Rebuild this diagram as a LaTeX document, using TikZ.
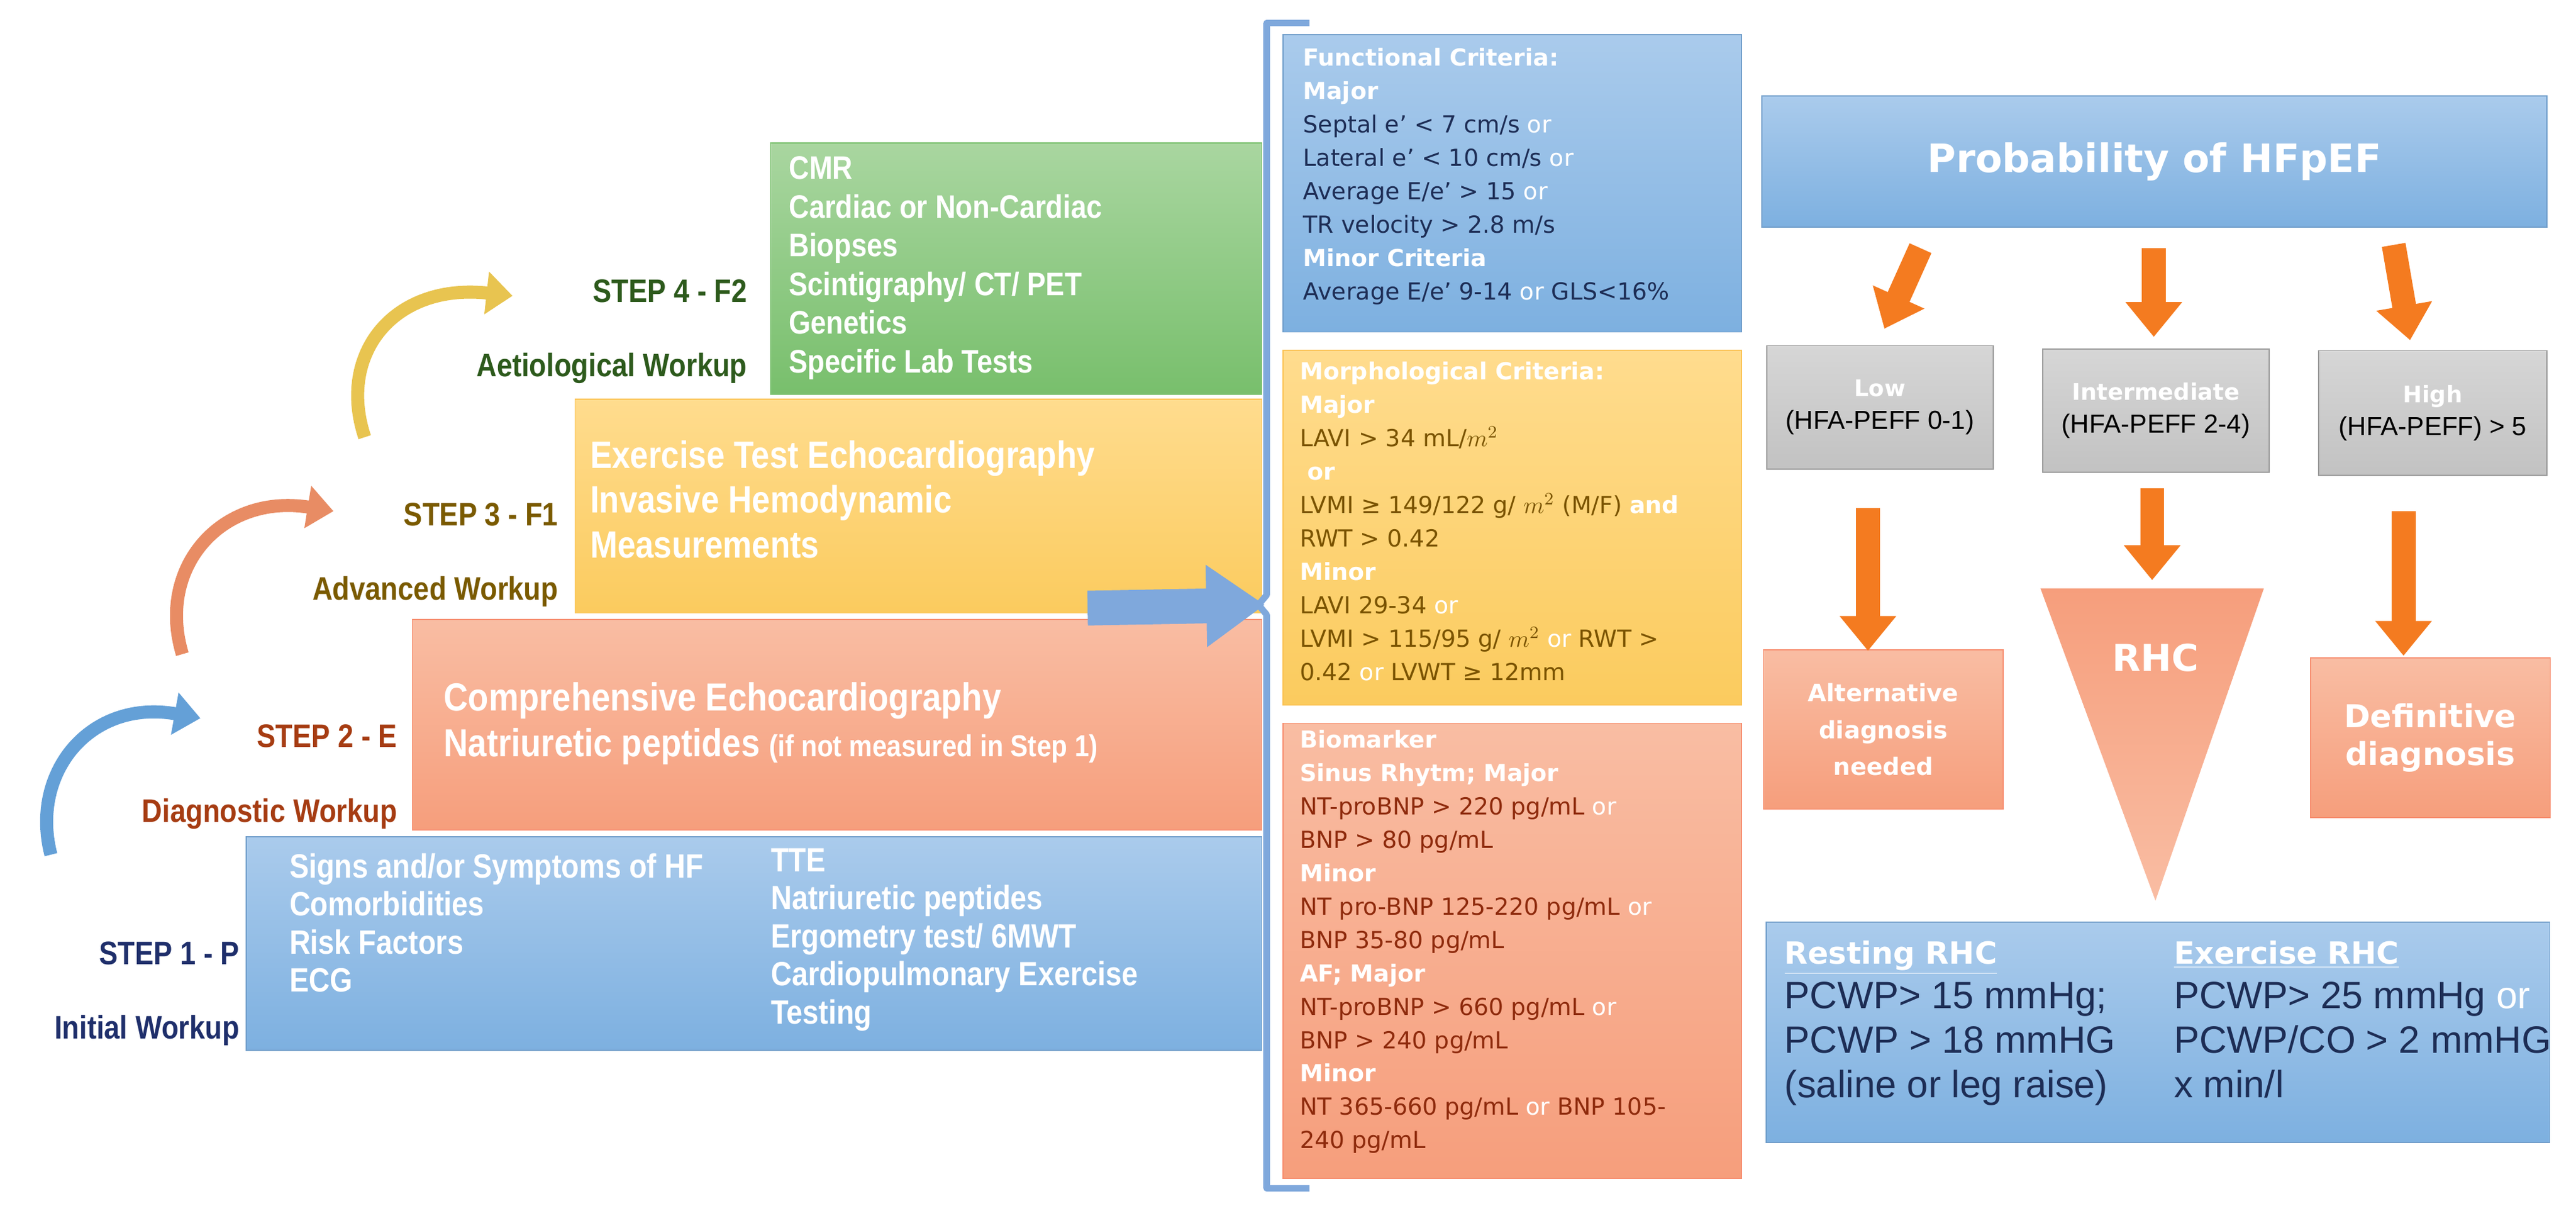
\documentclass[tikz,border=0pt]{standalone}
\usepackage{fontspec}
\setmainfont{Liberation Sans}
\newfontfamily\dv{DejaVu Sans}
\newfontfamily\cond[FakeStretch=0.86]{Liberation Sans}
\usetikzlibrary{arrows.meta}
\definecolor{bluT}{HTML}{AACBEC}\definecolor{bluB}{HTML}{7DB0E0}
\definecolor{grnT}{HTML}{A9D6A0}\definecolor{grnB}{HTML}{78BF6C}
\definecolor{yelT}{HTML}{FFDC8E}\definecolor{yelB}{HTML}{FBCB5E}
\definecolor{salT}{HTML}{F9BDA3}\definecolor{salB}{HTML}{F69E7C}
\definecolor{gryT}{HTML}{D6D6D6}\definecolor{gryB}{HTML}{C2C2C2}
\definecolor{orA}{HTML}{F47B20}
\definecolor{navy}{HTML}{1D2D55}\definecolor{brn}{HTML}{7A5300}\definecolor{dred}{HTML}{8E2A0C}
\definecolor{s4}{HTML}{2D5A1C}\definecolor{s3}{HTML}{7A5A00}\definecolor{s2}{HTML}{A63C12}\definecolor{s1}{HTML}{1F2F6B}
\definecolor{brk}{HTML}{7FA8DC}
\definecolor{cY}{HTML}{E8C450}\definecolor{cO}{HTML}{E88C64}\definecolor{cB}{HTML}{64A0D7}
\newcommand{\Wor}{{\color{white}or}}
\tikzset{
 bluebox/.style={top color=bluT,bottom color=bluB,draw=bluB!90!black,line width=0.5pt},
 grnbox/.style={top color=grnT,bottom color=grnB,draw=grnB,line width=0.5pt},
 yelbox/.style={top color=yelT,bottom color=yelB,draw=yelB!90!orange,line width=0.5pt},
 salbox/.style={top color=salT,bottom color=salB,draw=salB!90!red,line width=0.5pt},
 grybox/.style={top color=gryT,bottom color=gryB,draw=gray!80,line width=0.5pt},
 wt/.style={text=white,inner sep=0pt,anchor=north west,align=left},
 lbl/.style={inner sep=0pt,anchor=east,font=\cond\bfseries\fontsize{15}{18}\selectfont},
 crit/.style={inner sep=0pt,anchor=north west,align=left,font=\dv\fontsize{10.8}{15.35}\selectfont},
 oarr/.style={draw=orA,line width=11pt,-{Triangle[length=16pt,width=25pt]}},
 carr/.style={draw=#1,line width=6pt,-{Triangle[length=12pt,width=19pt]}},
}
\begin{document}
\begin{tikzpicture}[x=0.02656cm,y=-0.02656cm]
\useasboundingbox (0,0) rectangle (1568,741);
% step boxes
\path[bluebox] (150,509) rectangle (768,639);
\path[salbox] (251,377) rectangle (768,505);
\path[yelbox] (350,243) rectangle (768,373);
\path[grnbox] (469,87) rectangle (768,240);
% step texts
\node[wt,font=\cond\bfseries\fontsize{15}{17.8}\selectfont] (g4) at (480,95) {CMR\\Cardiac or Non-Cardiac\\Biopses\\Scintigraphy/ CT/ PET\\Genetics\\Specific Lab Tests};
\node[wt,font=\cond\bfseries\fontsize{17.5}{20.5}\selectfont] (g3) at (359,268) {Exercise Test Echocardiography\\Invasive Hemodynamic\\Measurements};
\node[wt,font=\cond\bfseries\fontsize{18}{21}\selectfont] (g2) at (270,415) {Comprehensive Echocardiography\\Natriuretic peptides {\fontsize{14}{16}\selectfont(if not measured in Step 1)}};
\node[wt,font=\cond\bfseries\fontsize{15.5}{17.5}\selectfont] (g1a) at (176,519) {Signs and/or Symptoms of HF\\Comorbidities\\Risk Factors\\ECG};
\node[wt,font=\cond\bfseries\fontsize{15.5}{17.5}\selectfont] (g1b) at (469,516) {TTE\\Natriuretic peptides\\Ergometry test/ 6MWT\\Cardiopulmonary Exercise\\Testing};
% step labels
\node[lbl,text=s4] (l4a) at (455,177) {STEP 4 - F2};
\node[lbl,text=s4] (l4b) at (455,224) {Aetiological Workup};
\node[lbl,text=s3] (l3a) at (340,313) {STEP 3 - F1};
\node[lbl,text=s3] (l3b) at (340,360) {Advanced Workup};
\node[lbl,text=s2] (l2a) at (242,448) {STEP 2 - E};
\node[lbl,text=s2] (l2b) at (242,495) {Diagnostic Workup};
\node[lbl,text=s1] (l1a) at (146,580) {STEP 1 - P};
\node[lbl,text=s1] (l1b) at (146,627) {Initial Workup};
% curved arrows
\coordinate (ya) at (222,266); \coordinate (yb) at (312,180);
\coordinate (oa) at (111,398); \coordinate (ob) at (203,311);
\coordinate (ba) at (31,520);  \coordinate (bb) at (122,437);
\draw[carr=cY] (ya) .. controls (205,215) and (240,172) .. (yb);
\draw[carr=cO] (oa) .. controls (95,345) and (135,300) .. (ob);
\draw[carr=cB] (ba) .. controls (18,470) and (55,425) .. (bb);
% big blue arrow
\coordinate (bua) at (662,370); \coordinate (bub) at (770,368);
\draw[draw=brk,line width=16pt,-{Triangle[length=27pt,width=36pt]}] (bua) -- (bub);
% bracket
\draw[brk,line width=3pt,line join=round] (797,14) -- (771,14) -- (771,362) -- (766,368) -- (771,374) -- (771,723) -- (797,723);
% criteria boxes
\path[bluebox] (781,21) rectangle (1060,202);
\path[yelbox] (781,213) rectangle (1060,429);
\path[salbox] (781,440) rectangle (1060,717);
\node[crit,text=navy] (fc) at (793,29) {{\color{white}\bfseries Functional Criteria:}\\{\color{white}\bfseries Major}\\Septal e’ < 7 cm/s \Wor\\Lateral e’ < 10 cm/s \Wor\\Average E/e’ > 15 \Wor\\TR velocity > 2.8 m/s\\{\color{white}\bfseries Minor Criteria}\\Average E/e’ 9-14 \Wor{} GLS<16\%};
\node[crit,text=brn] (mc) at (791,220) {{\color{white}\bfseries Morphological Criteria:}\\{\color{white}\bfseries Major}\\LAVI > 34 mL/$m^2$\\ \ {\color{white}\bfseries or}\\LVMI ≥ 149/122 g/ $m^2$ (M/F) {\color{white}\bfseries and}\\RWT > 0.42\\{\color{white}\bfseries Minor}\\LAVI 29-34 \Wor\\LVMI > 115/95 g/ $m^2$ \Wor{} RWT >\\0.42 \Wor{} LVWT ≥ 12mm};
\node[crit,text=dred] (bc) at (791,444) {{\color{white}\bfseries Biomarker}\\{\color{white}\bfseries Sinus Rhytm; Major}\\NT-proBNP > 220 pg/mL \Wor\\BNP > 80 pg/mL\\{\color{white}\bfseries Minor}\\NT pro-BNP 125-220 pg/mL \Wor\\BNP 35-80 pg/mL\\{\color{white}\bfseries AF; Major}\\NT-proBNP > 660 pg/mL \Wor\\BNP > 240 pg/mL\\{\color{white}\bfseries Minor}\\NT 365-660 pg/mL \Wor{} BNP 105-\\240 pg/mL};
% right part
\node[bluebox,minimum width=478*0.02656cm,minimum height=80*0.02656cm,inner sep=0pt,anchor=north west,text=white,font=\dv\bfseries\fontsize{18}{20}\selectfont] (prob) at (1072,58) {Probability of HFpEF};
\node[grybox,minimum width=138*0.02656cm,minimum height=75*0.02656cm,inner sep=0pt,anchor=north west,align=center,font=\fontsize{12}{15}\selectfont] (low) at (1075,210) {{\dv\bfseries\color{white}\fontsize{10.5}{13}\selectfont Low}\\(HFA-PEFF 0-1)};
\node[grybox,minimum width=138*0.02656cm,minimum height=75*0.02656cm,inner sep=0pt,anchor=north west,align=center,font=\fontsize{12}{15}\selectfont] (mid) at (1243,212) {{\dv\bfseries\color{white}\fontsize{10.5}{13}\selectfont Intermediate}\\(HFA-PEFF 2-4)};
\node[grybox,minimum width=139*0.02656cm,minimum height=76*0.02656cm,inner sep=0pt,anchor=north west,align=center,font=\fontsize{12}{15}\selectfont] (high) at (1411,213) {{\dv\bfseries\color{white}\fontsize{10.5}{13}\selectfont High}\\(HFA-PEFF) > 5};
\node[salbox,minimum width=146*0.02656cm,minimum height=97*0.02656cm,inner sep=0pt,anchor=north west,align=center,text=white,font=\dv\bfseries\fontsize{11}{17}\selectfont] (alt) at (1073,395) {Alternative\\diagnosis\\needed};
\node[salbox,minimum width=146*0.02656cm,minimum height=97*0.02656cm,inner sep=0pt,anchor=north west,align=center,text=white,font=\dv\bfseries\fontsize{14.5}{17.5}\selectfont] (def) at (1406,400) {Definitive\\diagnosis};
\path[top color=salB,bottom color=salT] (1242,358) -- (1378,358) -- (1312,548) -- cycle;
\node[text=white,font=\dv\bfseries\fontsize{17}{20}\selectfont] (rhc) at (1312,400) {RHC};
\path[bluebox] (1075,561) rectangle (1552,695);
\node[inner sep=0pt,anchor=north west,align=left,text=navy,font=\fontsize{17.5}{20.5}\selectfont] (rest) at (1086,572) {{\dv\bfseries\color{white}\fontsize{14}{16}\selectfont\underline{Resting RHC}}\\PCWP> 15 mmHg;\\PCWP > 18 mmHG\\(saline or leg raise)};
\node[inner sep=0pt,anchor=north west,align=left,text=navy,font=\fontsize{17.5}{20.5}\selectfont] (exer) at (1323,572) {{\dv\bfseries\color{white}\fontsize{14}{16}\selectfont\underline{Exercise RHC}}\\PCWP> 25 mmHg {\color{white}or}\\PCWP/CO > 2 mmHG\\x min/l};
% orange arrows
\coordinate (a1) at (1169,151); \coordinate (a1e) at (1147,200);
\coordinate (a2) at (1311,151); \coordinate (a2e) at (1311,205);
\coordinate (a3) at (1457,149); \coordinate (a3e) at (1467,207);
\coordinate (b1) at (1137,309); \coordinate (b1e) at (1137,396);
\coordinate (b2) at (1310,297); \coordinate (b2e) at (1310,353);
\coordinate (b3) at (1463,311); \coordinate (b3e) at (1463,399);
\draw[oarr] (a1) -- (a1e); \draw[oarr] (a2) -- (a2e); \draw[oarr] (a3) -- (a3e);
\draw[oarr] (b1) -- (b1e); \draw[oarr] (b2) -- (b2e); \draw[oarr] (b3) -- (b3e);
\end{tikzpicture}
\end{document}
